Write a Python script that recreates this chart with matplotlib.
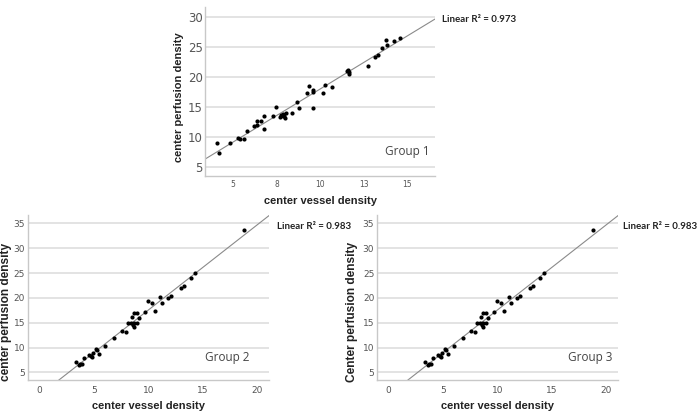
import numpy as np
import matplotlib
matplotlib.use("Agg")
import matplotlib.pyplot as plt

# Group 1 (center vessel density vs center perfusion density)
g1_vessel = [4.10, 4.20, 4.81, 5.29, 5.40, 5.61, 5.81, 6.19, 6.38, 6.38, 6.59, 6.80, 6.80,
             7.28, 7.49, 7.69, 7.78, 7.84, 7.94, 8.00, 7.88, 8.03, 8.38, 8.70, 8.80,
             9.26, 9.38, 9.57, 9.57, 9.57, 10.14, 10.26, 10.66, 11.60, 11.64, 11.66, 11.55,
             12.77, 13.16, 13.35, 13.54, 13.77, 13.85, 14.27, 14.56]
g1_perf = [8.9, 7.2, 9.0, 9.85, 9.6, 9.6, 11.0, 11.7, 11.9, 12.6, 12.6, 13.5, 11.2,
           13.5, 14.9, 13.3, 13.65, 13.8, 13.5, 13.1, 13.4, 13.9, 14.0, 15.7, 14.7,
           17.3, 18.45, 17.8, 17.45, 14.8, 17.2, 18.55, 18.3, 21.1, 20.8, 20.5, 20.9,
           21.7, 23.35, 23.6, 24.75, 26.1, 25.2, 26.0, 26.4]

# Groups 2 and 3 share the same scatter
g2_vessel = [3.31, 3.58, 3.74, 3.86, 4.04, 4.53, 4.69, 4.81, 4.93, 5.21, 5.30, 5.45,
             5.97, 6.80, 7.60, 7.96, 8.12, 8.36, 8.48, 8.58, 8.64, 8.70, 8.70, 8.97,
             8.97, 9.10, 9.68, 9.98, 10.29, 10.60, 11.09, 11.21, 11.79, 12.07, 13.02,
             13.26, 13.90, 14.30, 18.77]
g2_perf = [7.15, 6.5, 6.6, 6.75, 7.8, 8.4, 8.3, 8.15, 8.95, 9.8, 9.6, 8.7,
           10.3, 11.85, 13.3, 13.1, 14.85, 15.0, 16.2, 14.5, 14.2, 14.85, 17.0, 17.0,
           15.0, 16.0, 17.2, 19.4, 18.9, 17.4, 20.1, 18.9, 20.0, 20.3, 22.05,
           22.45, 24.05, 25.05, 33.6]

r2_labels = ["Linear R\u00b2 = 0.973", "Linear R\u00b2 = 0.983", "Linear R\u00b2 = 0.983"]
group_names = ["Group 1", "Group 2", "Group 3"]
y_titles = ["center perfusion density", "center perfusion density", "Center perfusion density"]
top_xticks = [5, 7.5, 10, 12.5, 15]
top_xticklabels = ["5", "8", "10", "13", "15"]

fig = plt.figure(figsize=(7, 4.19), dpi=100)
axes = [fig.add_axes([0.2929, 0.580, 0.3286, 0.4033]),
        fig.add_axes([0.040, 0.0931, 0.344, 0.3938]),
        fig.add_axes([0.5386, 0.0931, 0.344, 0.3938])]

datasets = [(g1_vessel, g1_perf), (g2_vessel, g2_perf), (g2_vessel, g2_perf)]
xlims = [(3.39, 16.6), (-1.07, 21.07), (-1.07, 21.07)]
ylims = [(3.45, 31.6), (3.46, 36.7), (3.46, 36.7)]
group_pos = [(0.878, 0.142), (0.826, 0.139), (0.884, 0.139)]
r2_pos = [(442 / 700, 1 - 20 / 419), (277 / 700, 1 - 226 / 419), (623 / 700, 1 - 226 / 419)]
ylabel_pos = [(-0.091, 0.467), (-0.068, 0.41), (-0.079, 0.41)]
ylabel_size = [8, 8.6, 8.6]

for i, ax in enumerate(axes):
    xv, yv = np.array(datasets[i][0]), np.array(datasets[i][1])
    ax.set_xlim(*xlims[i])
    ax.set_ylim(*ylims[i])
    # regression line
    k, b = np.polyfit(xv, yv, 1)
    xx = np.array(xlims[i])
    ax.plot(xx, k * xx + b, color="#8a8a8a", lw=0.8, zorder=2)
    ax.scatter(xv, yv, s=9, color="black", zorder=3, linewidths=0)

    ax.yaxis.grid(True, color="#e0e0e0", lw=1.3)
    ax.set_axisbelow(True)
    for s in ["top", "right"]:
        ax.spines[s].set_visible(False)
    for s in ["left", "bottom"]:
        ax.spines[s].set_color("#c8c8c8")
        ax.spines[s].set_linewidth(1.0)

    if i == 0:
        ax.set_xticks(top_xticks)
        ax.set_xticklabels(top_xticklabels)
        ax.set_yticks([5, 10, 15, 20, 25, 30])
        ax.tick_params(axis="y", labelsize=8.5, length=0, pad=1.5, colors="#555555")
        ax.tick_params(axis="x", labelsize=5.5, length=0, pad=3, colors="#555555")
    else:
        ax.set_xticks([0, 5, 10, 15, 20])
        ax.set_yticks([5, 10, 15, 20, 25, 30, 35])
        ax.tick_params(axis="both", labelsize=6.5, length=0, colors="#555555")
        ax.tick_params(axis="y", pad=2)
        ax.tick_params(axis="x", pad=4)

    ax.set_xlabel("center vessel density", fontsize=8, fontweight="bold",
                  family="Liberation Sans", color="#222222", labelpad=5)
    ax.set_ylabel(y_titles[i], fontsize=ylabel_size[i], fontweight="bold",
                  family="Liberation Sans", color="#222222")
    ax.yaxis.set_label_coords(*ylabel_pos[i])

    ax.text(group_pos[i][0], group_pos[i][1], group_names[i], transform=ax.transAxes,
            ha="center", va="center", fontsize=8.5, family="Open Sans", color="#444444")
    fig.text(r2_pos[i][0], r2_pos[i][1], r2_labels[i], ha="left", va="center",
             fontsize=7, family="Lato", fontweight="bold", color="#222222")

fig.savefig("out.png", dpi=100)
